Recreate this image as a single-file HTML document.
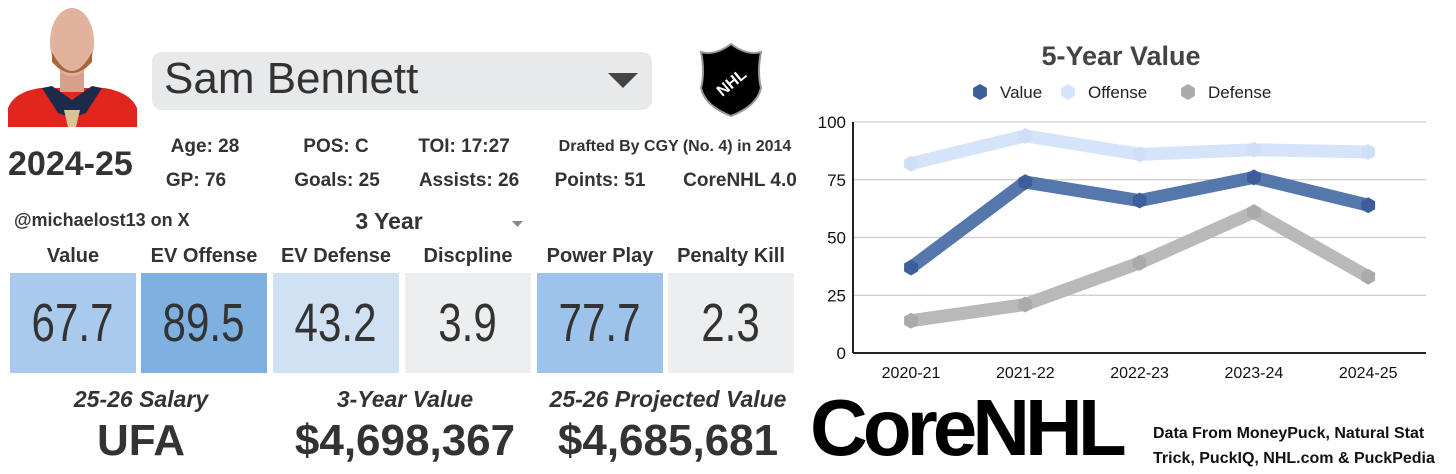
<!DOCTYPE html>
<html><head><meta charset="utf-8"><style>
body{margin:0;width:1456px;height:474px;background:#fff;position:relative;overflow:hidden;font-family:"Liberation Sans Narrow","Liberation Sans",sans-serif;color:#333}
.a{position:absolute;white-space:nowrap}
.c{transform:translateX(-50%)}
.b{font-weight:bold}
.tile{position:absolute;top:273px;height:100px;width:126px;display:flex;align-items:center;justify-content:center;color:#333;font-family:"Liberation Sans",sans-serif}
.tile span{display:inline-block;font-size:54px;transform:scaleX(0.78)}
</style></head><body>
<svg class="a" style="left:0;top:0" width="150" height="135">
<path d="M8 127 L8 108 Q14 92 40 88 L104 88 Q130 92 137 108 L137 127Z" fill="#e0261e"/>
<path d="M42 88 L58 113 L72 118 L86 113 L102 88 L92 86 L72 100 L52 86Z" fill="#1e2a4a"/>
<path d="M64 110 L80 110 L76 127 L68 127Z" fill="#d9c49a"/>
<rect x="60" y="62" width="24" height="30" fill="#d8a088"/>
<ellipse cx="72" cy="42" rx="22" ry="34" fill="#e2b39c"/>
<path d="M52 52 Q72 90 92 52 L92 62 Q72 84 52 62Z" fill="#a8653e"/>
</svg>
<div class="a" style="left:152px;top:52px;width:500px;height:58px;background:#e8e9eb;border-radius:10px">
<span class="a" style="left:12px;top:2px;font-family:'Liberation Sans',sans-serif;font-size:44px;color:#333">Sam Bennett</span>
<svg class="a" style="left:456px;top:21px" width="30" height="15"><path d="M0 0H30L15 15Z" fill="#444"/></svg>
</div>
<svg class="a" style="left:697px;top:42px" width="68" height="76">
<path d="M4 10 Q18 14 34 2 Q50 14 64 10 Q60 30 64 46 Q60 64 34 74 Q8 64 4 46 Q8 30 4 10Z" fill="#000" stroke="#999" stroke-width="2"/>
<text x="34" y="46" text-anchor="middle" fill="#fff" font-size="16" font-weight="bold" font-family="Liberation Sans" transform="rotate(-40 34 40)">NHL</text>
</svg>
<div class="a b" style="left:8px;top:145px;font-size:34px">2024-25</div>
<div class="a b c" style="left:205px;top:136px;font-size:19px">Age: 28</div>
<div class="a b c" style="left:336px;top:136px;font-size:19px">POS: C</div>
<div class="a b c" style="left:464px;top:136px;font-size:19px">TOI: 17:27</div>
<div class="a b c" style="left:675px;top:138px;font-size:16px">Drafted By CGY (No. 4) in 2014</div>
<div class="a b c" style="left:196px;top:170px;font-size:19px">GP: 76</div>
<div class="a b c" style="left:337px;top:170px;font-size:19px">Goals: 25</div>
<div class="a b c" style="left:469px;top:170px;font-size:19px">Assists: 26</div>
<div class="a b c" style="left:600px;top:170px;font-size:19px">Points: 51</div>
<div class="a b c" style="left:740px;top:170px;font-size:19px">CoreNHL 4.0</div>
<div class="a b" style="left:14px;top:210px;font-size:18px">@michaelost13 on X</div>
<div class="a b c" style="left:389px;top:208px;font-size:23px">3 Year</div>
<svg class="a" style="left:512px;top:221px" width="11" height="6"><path d="M0 0H11L5.5 6Z" fill="#888"/></svg>
<div class="a b c" style="left:73px;top:245px;font-size:20px">Value</div>
<div class="a b c" style="left:204px;top:245px;font-size:20px">EV Offense</div>
<div class="a b c" style="left:336px;top:245px;font-size:20px">EV Defense</div>
<div class="a b c" style="left:468px;top:245px;font-size:20px">Discpline</div>
<div class="a b c" style="left:600px;top:245px;font-size:20px">Power Play</div>
<div class="a b c" style="left:731px;top:245px;font-size:20px">Penalty Kill</div>
<div class="tile" style="left:10px;background:#a9caec"><span>67.7</span></div>
<div class="tile" style="left:141px;background:#7fb1e0"><span>89.5</span></div>
<div class="tile" style="left:273px;background:#d0e1f4"><span>43.2</span></div>
<div class="tile" style="left:405px;background:#eceeef"><span>3.9</span></div>
<div class="tile" style="left:537px;background:#9dc3ea"><span>77.7</span></div>
<div class="tile" style="left:668px;background:#eceeef"><span>2.3</span></div>
<div class="a b c" style="left:141px;top:386px;font-size:23px;font-style:italic">25-26 Salary</div>
<div class="a b c" style="left:405px;top:386px;font-size:23px;font-style:italic">3-Year Value</div>
<div class="a b c" style="left:668px;top:386px;font-size:23px;font-style:italic">25-26 Projected Value</div>
<div class="a b c" style="left:141px;top:416px;font-size:44px">UFA</div>
<div class="a b c" style="left:405px;top:416px;font-size:44px">$4,698,367</div>
<div class="a b c" style="left:668px;top:416px;font-size:44px">$4,685,681</div>
<div class="a b" style="left:810px;top:382px;font-family:'Liberation Sans',sans-serif;font-size:80px;color:#000;letter-spacing:-5px">CoreNHL</div>
<div class="a b" style="left:1153px;top:421px;font-size:16px;line-height:25px;color:#111">Data From MoneyPuck, Natural Stat<br>Trick, PuckIQ, NHL.com &amp; PuckPedia</div>

<svg id="chart" class="a" style="left:800px;top:30px" width="656" height="360"></svg>
<script>
const categories=["2020-21","2021-22","2022-23","2023-24","2024-25"];
const valueSeries=[37,74,66,76,64];
const offenseSeries=[82,94,86,88,87];
const defenseSeries=[14,21,39,61,33];
const yTicks=[0,25,50,75,100];
const NS="http://www.w3.org/2000/svg";
const svg=document.getElementById('chart');
const X0=53,X1=626,Y0=323,Y1=92;
function xs(i){return 111+i*114.3;}
function ys(v){return Y0-(v/100)*(Y0-Y1);}
function mk(t,a){const e=document.createElementNS(NS,t);for(const k in a)e.setAttribute(k,a[k]);svg.appendChild(e);return e;}
let t=mk('text',{x:321,y:35,'text-anchor':'middle','font-size':27,'font-weight':'bold',fill:'#444','font-family':'Liberation Sans'});t.textContent='5-Year Value';


function hex(cx,cy,r,fill){let p=[];for(let k=0;k<6;k++){const a=Math.PI/3*k+Math.PI/6;p.push((cx+r*Math.cos(a)).toFixed(1)+','+(cy+r*Math.sin(a)).toFixed(1));}return mk('polygon',{points:p.join(' '),fill:fill});}
yTicks.forEach(v=>{
 const g=mk('line',{x1:X0,x2:X1,y1:ys(v),y2:ys(v),stroke:v===0?'#222':'#ccc','stroke-width':v===0?2:1.2});
 
 
 const l=mk('text',{x:46,y:ys(v)+6,'text-anchor':'end','font-size':17,fill:'#111','font-family':'Liberation Sans'});l.textContent=v;
 
 
});
const ax=mk('line',{x1:X0,x2:X0,y1:Y1,y2:Y0,stroke:'#222','stroke-width':2});


categories.forEach((c,i)=>{const l=mk('text',{x:xs(i),y:Y0+25,'text-anchor':'middle','font-size':16,fill:'#111','font-family':'Liberation Sans'});l.textContent=c;
 
 });
const series=[[offenseSeries,'#d6e4fa','#d0dff8','offense'],[defenseSeries,'#b9b9b9','#aaaaaa','defense'],[valueSeries,'#5677ab','#3c5f9c','value']];
series.forEach(([d,col,mc,nm])=>{
 const pl=mk('polyline',{points:d.map((v,i)=>xs(i)+','+ys(v)).join(' '),fill:'none',stroke:col,'stroke-width':13,'stroke-linejoin':'round'});
 
 
 d.forEach((v,i)=>{const h=hex(xs(i),ys(v),8,mc);
  
  });
});
[['Value','#3c5f9c',180],['Offense','#d6e4fa',268],['Defense','#aaaaaa',388]].forEach(([n,c,x])=>{
 const h=hex(x,62,8,c);
 
 
 const l=mk('text',{x:x+20,y:68,'font-size':17,fill:'#222','font-family':'Liberation Sans'});l.textContent=n;
 
 
});
</script>
</body></html>
